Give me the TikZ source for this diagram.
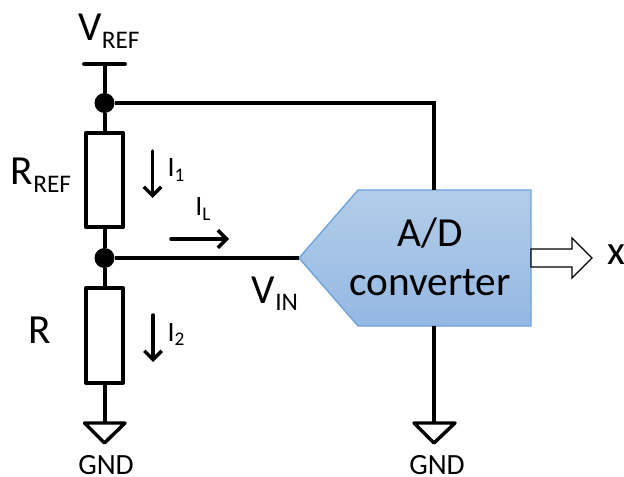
\documentclass[tikz,border=0pt]{standalone}
\usepackage{fontspec}
\setmainfont{Carlito}
\usetikzlibrary{arrows.meta}
\definecolor{blockTop}{HTML}{B3CDE9}
\definecolor{blockBot}{HTML}{94B8E3}
\definecolor{blockEdge}{HTML}{6BA3DA}
\newcommand{\fBig}{\fontsize{31}{34}\selectfont}
\newcommand{\fSub}{\fontsize{19}{21}\selectfont}
\newcommand{\fGnd}{\fontsize{22}{24}\selectfont}
\newcommand{\fI}{\fontsize{21}{24}\selectfont}
\newcommand{\fTiny}{\fontsize{14.5}{16}\selectfont}
\tikzset{
  wire/.style={line width=3pt},
  resistor/.style={draw,line width=2.8pt,fill=white,inner sep=0pt,minimum width=28pt,minimum height=71pt,line join=round},
  junction/.style={circle,fill=black,inner sep=0pt,minimum size=15pt},
  groundsym/.style={line width=2.6pt,line join=round,line cap=round},
  current/.style={line width=2.6pt,line cap=round,-{Straight Barb[length=6.5pt,width=13pt,line width=2.6pt]}},
  label/.style={inner sep=0pt,align=center},
}
\begin{document}
\begin{tikzpicture}[x=0.75pt,y=-0.75pt]
\useasboundingbox (0,0) rectangle (624,477);
% block
\path[top color=blockTop,bottom color=blockBot,draw=blockEdge,line width=1pt]
  (299,258) -- (358,190) -- (531,190) -- (531,326) -- (358,326) -- cycle;
\coordinate (adcin) at (299,258);
\coordinate (adctop) at (434,190);
\coordinate (adcbot) at (434,326);
\coordinate (corner) at (434,103);
\coordinate (vrefl) at (84,64);
\coordinate (vrefr) at (125,64);
\coordinate (vrefm) at (104.5,64);
\coordinate (g1) at (104.5,423);
\coordinate (g2) at (434,423);
\node[resistor] (r1) at (104.5,180) {};
\node[resistor] (r2) at (104.5,335.5) {};
\node[junction] (j1) at (104.5,103) {};
\node[junction] (j2) at (104.5,258) {};
% wires
\draw[wire,line cap=round] (vrefl) -- (vrefr);
\draw[wire] (vrefm) -- (j1) -- (r1);
\draw[wire] (r1) -- (j2) -- (r2);
\draw[wire] (r2) -- (g1);
\draw[wire,line join=miter] (j1) -- (corner) -- (adctop);
\draw[wire] (j2) -- (adcin);
\draw[wire] (adcbot) -- (g2);
% grounds
\draw[groundsym] (84.5,423) -- (125,423) -- (104.5,443) -- cycle;
\draw[groundsym] (414,423) -- (455,423) -- (434,443) -- cycle;
% output arrow
\draw[line width=1pt,fill=white,line join=miter]
  (531,249) -- (572,249) -- (572,238) -- (592,258) -- (572,278) -- (572,267) -- (531,267) -- cycle;
% current arrows
\coordinate (i1a) at (152.5,151); \coordinate (i1b) at (152.5,198);
\coordinate (i2a) at (153,315);   \coordinate (i2b) at (153,362);
\coordinate (iLa) at (171,239);   \coordinate (iLb) at (229,239);
\draw[current] (i1a) -- (i1b);
\draw[current] (i2a) -- (i2b);
\draw[current] (iLa) -- (iLb);
% labels
\node[label,anchor=base] (tv) at (109,41) {\fBig V\raisebox{-6pt}{\fSub REF}};
\node[label,anchor=base] (tr1) at (41,185) {\fBig R\raisebox{-6pt}{\fSub REF}};
\node[label,anchor=base] (tr2) at (40,343) {\fBig R};
\node[label,anchor=base] (tvin) at (275,303) {\fBig V\raisebox{-5.5pt}{\fSub IN}};
\node[label,anchor=base] (tadc1) at (430,247) {\fBig A/D};
\node[label,anchor=base] (tadc2) at (430,295) {\fBig converter};
\node[label,anchor=base] (tx) at (616,264) {\fBig x};
\node[label,anchor=base] (tg1) at (106,474) {\fGnd GND};
\node[label,anchor=base] (tg2) at (437,474) {\fGnd GND};
\node[label,anchor=base] (ti1) at (176,177) {\fI I\raisebox{-3.5pt}{\fTiny 1}};
\node[label,anchor=base] (ti2) at (176,341) {\fI I\raisebox{-3.5pt}{\fTiny 2}};
\node[label,anchor=base] (til) at (203,216) {\fI I\raisebox{-3.5pt}{\fTiny L}};
\end{tikzpicture}
\end{document}
